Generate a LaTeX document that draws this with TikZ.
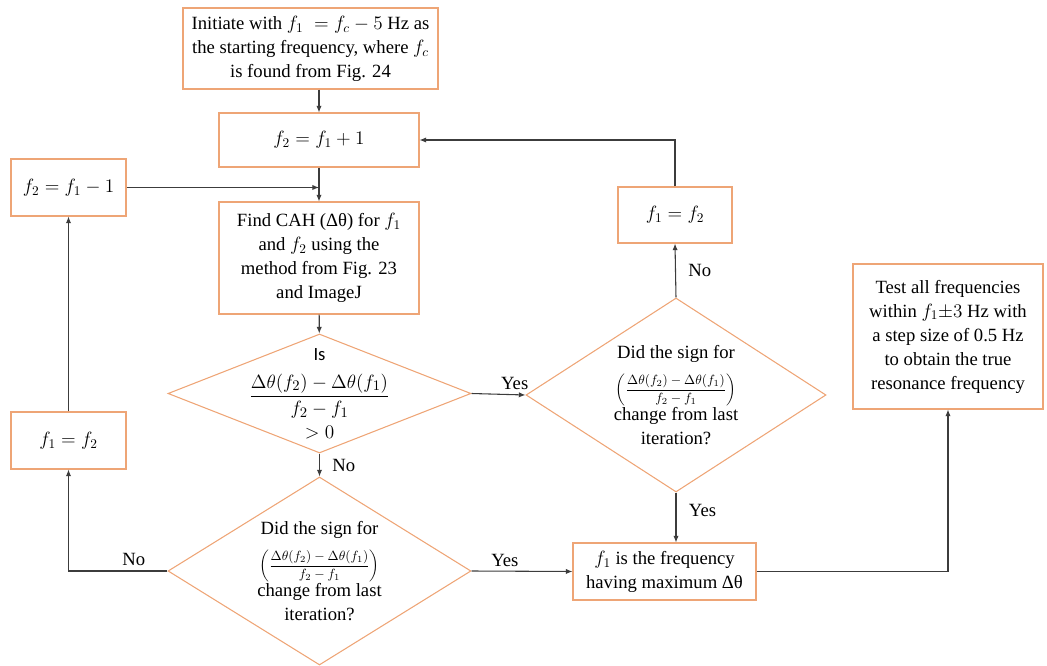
\documentclass[tikz,border=0pt]{standalone}
\usepackage{amsmath}
\usepackage{fontspec}
\setmainfont{Liberation Serif}
\newfontfamily\calfont{Carlito}
\usetikzlibrary{shapes.geometric,arrows.meta}
\definecolor{boxorange}{RGB}{238,165,118}
\definecolor{lineGray}{RGB}{60,60,60}
\begin{document}
\begin{tikzpicture}[x=0.75pt,y=-0.75pt,
  font=\rmfamily\fontsize{14}{18}\selectfont,
  box/.style={draw=boxorange,line width=0.8pt,inner sep=0pt,align=center},
  decision/.style={draw=boxorange,line width=0.8pt,shape=diamond,inner sep=0pt},
  arr/.style={draw=lineGray,line width=0.8pt,-{Latex[length=5pt,width=4pt]}}]
\useasboundingbox (0,0) rectangle (1047,666);
% middle column
\node[box,minimum width=191.25pt,minimum height=60.75pt] (start) at (310.5,48.5)
  {Initiate with $f_1 \;= f_c - 5$ Hz as\\the starting frequency, where $f_c$\\is found from Fig. 24};
\node[box,minimum width=150pt,minimum height=40.5pt] (upd) at (319,140) {$f_2 = f_1 + 1$};
\node[box,minimum width=150pt,minimum height=84pt] (find) at (319,258)
  {Find CAH (Δθ) for $f_1$\\and $f_2$ using the\\method from Fig. 23\\and ImageJ};
\node[decision,minimum width=227.25pt,minimum height=89.25pt] (q1) at (319.5,393.5) {};
\node[align=center] (q1txt) at (q1.center)
  {{\calfont Is}\\[9pt]{\fontsize{15}{18}\selectfont$\dfrac{\Delta\theta(f_2)-\Delta\theta(f_1)}{f_2-f_1}$}\\[5pt]$>0$};
\node[decision,minimum width=227.25pt,minimum height=141pt] (q2) at (319.5,571) {};
\node[align=center] (q2txt) at (q2.center)
  {Did the sign for\\[8pt]{\fontsize{10}{12}\selectfont$\left(\dfrac{\Delta\theta(f_2)-\Delta\theta(f_1)}{f_2-f_1}\right)$}\\[0pt]change from last\\iteration?};
% left column
\node[box,minimum width=86.25pt,minimum height=42.75pt] (dec) at (68.5,187.5) {$f_2 = f_1 - 1$};
\node[box,minimum width=86.25pt,minimum height=42.75pt] (swapL) at (68.5,440.5) {$f_1 = f_2$};
% right column
\node[box,minimum width=85.5pt,minimum height=42pt] (swapR) at (675,215) {$f_1 = f_2$};
\node[decision,minimum width=225pt,minimum height=145.5pt] (q3) at (676,395) {};
\node[align=center] (q3txt) at (q3.center)
  {Did the sign for\\[8pt]{\fontsize{10}{12}\selectfont$\left(\dfrac{\Delta\theta(f_2)-\Delta\theta(f_1)}{f_2-f_1}\right)$}\\[0pt]change from last\\iteration?};
\node[box,minimum width=137.25pt,minimum height=42.75pt] (found) at (664.5,571.5)
  {$f_1$ is the frequency\\having maximum Δθ};
\node[box,minimum width=142.5pt,minimum height=108.75pt] (test) at (948,336.5)
  {Test all frequencies\\within $f_1{\pm}3$ Hz with\\a step size of 0.5 Hz\\to obtain the true\\resonance frequency};
% connectors
\draw[arr] (start.south -| upd.north) -- (upd.north);
\draw[arr] (upd) -- (find);
\draw[arr] (dec.east) -- (dec.east -| upd.south);
\draw[arr] (find) -- (q1);
\draw[arr] (q1.south) -- node[right=6pt]{No} (q2.north);
\draw[arr] (q1.east) -- node[above,pos=0.8]{Yes} (q3.west);
\draw[arr] (q2.east) -- node[above,pos=0.33]{Yes} (found.west);
\draw[arr] (q2.west) -| node[above,pos=0.17]{No} (swapL.south);
\draw[arr] (swapL) -- (dec);
\draw[arr] (q3.north) -- node[right=6pt]{No} (swapR.south);
\draw[arr] (swapR.north) |- (upd.east);
\draw[arr] (q3.south) -- node[right=6pt,pos=0.35]{Yes} (q3.south |- found.north);
\draw[arr] (found.east) -| (test.south);
\end{tikzpicture}
\end{document}
